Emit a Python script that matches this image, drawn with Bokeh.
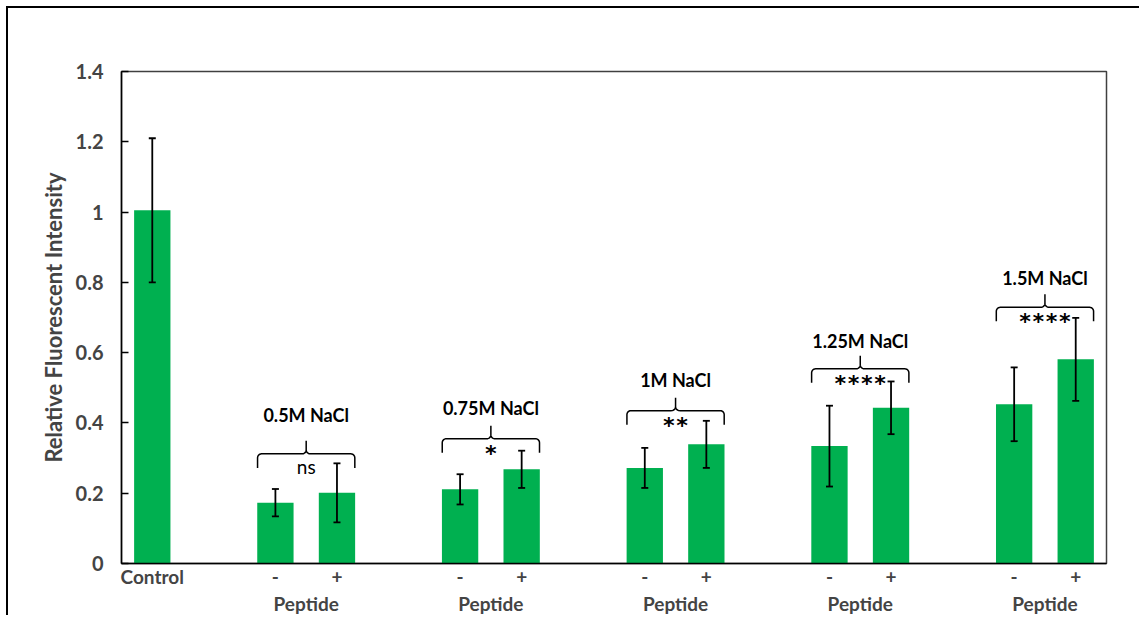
import numpy as np
from bokeh.plotting import figure
from bokeh.models import (Range1d, FixedTicker, LinearAxis, ColumnDataSource,
                          Whisker, TeeHead)
from bokeh.core.properties import value
from bokeh.embed import file_html
from bokeh.resources import INLINE

# ---- data ----
control_label = "Control"
control_value = 1.005
control_err = 0.205

salt_labels = ["0.5M NaCl", "0.75M NaCl", "1M NaCl", "1.25M NaCl", "1.5M NaCl"]
minus_values = [0.173, 0.211, 0.272, 0.334, 0.453]
minus_err = [0.039, 0.043, 0.057, 0.115, 0.105]
plus_values = [0.201, 0.268, 0.339, 0.443, 0.581]
plus_err = [0.084, 0.053, 0.067, 0.075, 0.118]
significance = ["ns", "*", "**", "****", "****"]
bracket_levels = [0.312, 0.355, 0.435, 0.554, 0.729]
label_levels = [0.423, 0.443, 0.523, 0.634, 0.811]
peptide_labels = ["-", "+"]
group_axis_label = "Peptide"

y_ticks = [0, 0.2, 0.4, 0.6, 0.8, 1.0, 1.2, 1.4]
y_tick_labels = ["0", "0.2", "0.4", "0.6", "0.8", "1", "1.2", "1.4"]

GREEN = "#00B050"
FONT = "Lato"

# ---- slot layout: control, gap, then (-, +, gap) per salt group ----
n_groups = len(salt_labels)
group_centers = [3 * g + 3 for g in range(n_groups)]
x_minus = [c - 0.5 for c in group_centers]
x_plus = [c + 0.5 for c in group_centers]
x_control = 0.5

xs = [x_control] + x_minus + x_plus
tops = [control_value] + minus_values + plus_values
errs = [control_err] + minus_err + plus_err

src = ColumnDataSource(dict(
    x=xs, top=tops,
    upper=[t + e for t, e in zip(tops, errs)],
    lower=[t - e for t, e in zip(tops, errs)],
))

p = figure(width=1133, height=609,
           x_range=Range1d(0, 16), y_range=Range1d(0, 1.4),
           output_backend="svg", toolbar_location=None,
           min_border_left=113, min_border_top=63,
           min_border_right=35, min_border_bottom=54)
p.margin = (6, 0, 0, 6)
p.styles = {"border-left": "2px solid black", "border-top": "2px solid black"}

p.xgrid.visible = False
p.ygrid.visible = False
p.outline_line_color = "#404040"
p.outline_line_width = 1.5
p.background_fill_color = "white"
p.border_fill_color = "white"

p.vbar(x="x", top="top", width=0.59, source=src, fill_color=GREEN, line_color=None)

whisk = Whisker(base="x", upper="upper", lower="lower", source=src,
                line_color="black", line_width=1.8, level="annotation",
                upper_head=TeeHead(size=7, line_color="black", line_width=1.8),
                lower_head=TeeHead(size=7, line_color="black", line_width=1.8))
p.add_layout(whisk)

# ---- y axis ----
yax = p.yaxis[0]
yax.ticker = FixedTicker(ticks=y_ticks)
yax.major_label_overrides = {t: l for t, l in zip(y_ticks, y_tick_labels)}
yax.axis_label = "Relative Fluorescent Intensity"
yax.axis_label_text_font = FONT
yax.axis_label_text_font_style = "bold"
yax.axis_label_text_font_size = "22px"
yax.axis_label_standoff = 6
yax.major_label_text_font = FONT
yax.major_label_text_font_style = "bold"
yax.major_label_text_font_size = "20px"
yax.major_label_standoff = 18
yax.major_tick_in = 7
yax.major_tick_out = 0
yax.minor_tick_in = 0
yax.minor_tick_out = 0
yax.axis_line_color = "black"
yax.axis_line_width = 1.5
yax.major_tick_line_width = 1.5

# ---- x axis: Control / - / + ----
xax = p.xaxis[0]
x_tick_pos = [x_control] + [v for pair in zip(x_minus, x_plus) for v in pair]
x_tick_txt = [control_label] + peptide_labels * n_groups
xax.ticker = FixedTicker(ticks=x_tick_pos)
xax.major_label_overrides = {t: l for t, l in zip(x_tick_pos, x_tick_txt)}
xax.major_label_text_font = FONT
xax.major_label_text_font_style = "bold"
xax.major_label_text_font_size = "19px"
xax.major_label_standoff = 1
xax.major_tick_in = 0
xax.major_tick_out = 0
xax.minor_tick_in = 0
xax.minor_tick_out = 0
xax.axis_line_color = "black"
xax.axis_line_width = 1.5

# second row of labels under each group
xax2 = LinearAxis(ticker=FixedTicker(ticks=group_centers),
                  major_label_overrides={c: group_axis_label for c in group_centers})
xax2.major_label_text_font = FONT
xax2.major_label_text_font_style = "bold"
xax2.major_label_text_font_size = "19px"
xax2.major_label_standoff = 1
xax2.major_tick_in = 0
xax2.major_tick_out = 0
xax2.minor_tick_in = 0
xax2.minor_tick_out = 0
xax2.axis_line_color = None
p.add_layout(xax2, "below")


# ---- curly braces over each salt group ----
def brace_path(c, level, hw=0.79, drop=0.040, rise=0.037, rx=0.065, ry=0.0114):
    t1 = np.linspace(np.pi, np.pi / 2, 8)
    t2 = np.linspace(-np.pi / 2, 0, 8)
    lx = [c - hw]
    ly = [level - drop]
    lx += list(c - hw + rx + rx * np.cos(t1))
    ly += list(level - ry + ry * np.sin(t1))
    lx += list(c - rx + rx * np.cos(t2))
    ly += list(level + ry + ry * np.sin(t2))
    lx += [c]
    ly += [level + rise]
    rxs = [2 * c - v for v in reversed(lx[:-1])]
    rys = list(reversed(ly[:-1]))
    return lx + rxs, ly + rys


bx, by = [], []
for c, lvl in zip(group_centers, bracket_levels):
    xx, yy = brace_path(c, lvl)
    bx.append(xx)
    by.append(yy)
p.multi_line(xs=bx, ys=by, line_color="black", line_width=1.5)

# salt concentration labels above the braces
p.text(x=group_centers, y=label_levels, text=salt_labels,
       text_font=value(FONT), text_font_style="bold", text_font_size="18px",
       text_align="center", text_baseline="middle", text_color="black")

# significance marks under the braces
sig_y = [lvl - 0.035 for lvl in bracket_levels]
ns_idx = [i for i, s in enumerate(significance) if s == "ns"]
star_idx = [i for i, s in enumerate(significance) if s != "ns"]
p.text(x=[group_centers[i] for i in ns_idx], y=[sig_y[i] for i in ns_idx],
       text=[significance[i] for i in ns_idx],
       text_font=value(FONT), text_font_size="19px",
       text_align="center", text_baseline="middle", text_color="black")
p.text(x=[group_centers[i] for i in star_idx], y=[sig_y[i] - 0.006 for i in star_idx],
       text=[significance[i] for i in star_idx],
       text_font=value("DejaVu Sans Mono"), text_font_style="bold", text_font_size="22px",
       text_align="center", text_baseline="middle", text_color="black")

open("out.html", "w").write(file_html(p, INLINE))
